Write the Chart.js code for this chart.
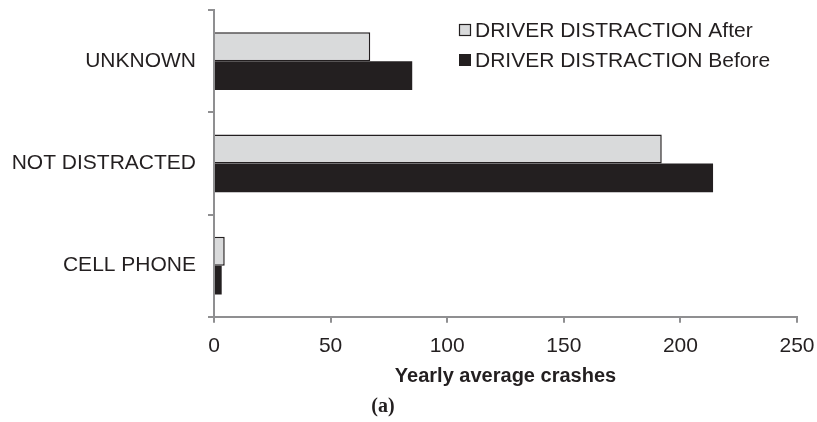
<!DOCTYPE html>
<html>
<head>
<meta charset="utf-8">
<script src="https://cdn.jsdelivr.net/npm/chart.js@4.4.1/dist/chart.umd.min.js"></script>
<style>
  html, body { margin: 0; padding: 0; background: #fff; }
  #wrap { position: relative; width: 817px; height: 422px; }
  #caption {
    position: absolute; left: 368px; top: 394px; width: 30px; text-align: center;
    font: bold 20px 'Liberation Serif', 'Times New Roman', serif; color: #231f20;
  }
</style>
</head>
<body>
<div id="wrap">
  <canvas id="crashchart" width="817" height="422"></canvas>
  <div id="caption">(a)</div>
</div>
<script>
// categories top to bottom
const categories = ['UNKNOWN', 'NOT DISTRACTED', 'CELL PHONE'];
const seriesNames = ['DRIVER DISTRACTION After', 'DRIVER DISTRACTION Before'];
const afterValues = [67, 192, 4.6];
const beforeValues = [85, 214, 3.3];
const xTicks = [0, 50, 100, 150, 200, 250];

const ink = '#231f20';
const axisGray = '#8f8f91';

// legend drawn inside the plot, top right
const boxLegend = {
  id: 'boxLegend',
  afterDraw(chart) {
    const ctx = chart.ctx;
    const x = 459, rows = [30, 60];
    ctx.save();
    ctx.font = "21px 'Liberation Sans', Arial, sans-serif";
    ctx.textBaseline = 'middle';
    chart.data.datasets.forEach((ds, i) => {
      const y = rows[i];
      ctx.fillStyle = ds.backgroundColor;
      ctx.fillRect(x, y - 6, 12, 12);
      if (ds.borderWidth) {
        ctx.strokeStyle = ds.borderColor;
        ctx.lineWidth = 1.2;
        ctx.strokeRect(x + 0.5, y - 5.5, 11, 11);
      }
      ctx.fillStyle = ink;
      ctx.fillText(ds.label, x + 16, y + 1);
    });
    ctx.restore();
  }
};

Chart.defaults.font.family = "'Liberation Sans', Arial, sans-serif";
Chart.defaults.color = ink;

const ctx = document.getElementById('crashchart').getContext('2d');
new Chart(ctx, {
  type: 'bar',
  data: {
    labels: categories,
    datasets: [{
      label: seriesNames[0],
      data: afterValues,
      backgroundColor: '#d9dadb',
      borderColor: ink,
      borderWidth: 1.5,
      borderSkipped: 'left'
    }, {
      label: seriesNames[1],
      data: beforeValues,
      backgroundColor: ink,
      borderWidth: 0
    }]
  },
  options: {
    indexAxis: 'y',
    responsive: false,
    animation: false,
    barPercentage: 1,
    categoryPercentage: 0.565,
    layout: { padding: { top: 10, right: 20, bottom: 36, left: 0 } },
    plugins: {
      legend: { display: false },
      tooltip: { enabled: false }
    },
    scales: {
      x: {
        min: 0,
        max: 250,
        afterBuildTicks: scale => { scale.ticks = xTicks.map(v => ({ value: v })); },
        afterFit: scale => {
          scale.paddingLeft = 0;
          scale.paddingRight = 0;
        },
        grid: { drawOnChartArea: false, drawTicks: true, tickLength: 6, color: axisGray, lineWidth: 2 },
        border: { display: true, color: axisGray, width: 2 },
        ticks: { font: { size: 21 }, padding: 11, maxRotation: 0 },
        title: {
          display: true,
          text: 'Yearly average crashes',
          font: { size: 20, weight: 'bold', lineHeight: 1 },
          padding: { top: -4, bottom: 0 }
        }
      },
      y: {
        afterFit: scale => {
          scale.width = 214;
          scale.paddingTop = 0;
          scale.paddingBottom = 0;
        },
        grid: { offset: true, drawOnChartArea: false, drawTicks: true, tickLength: 6, color: axisGray, lineWidth: 2 },
        border: { display: true, color: axisGray, width: 2 },
        ticks: { font: { size: 21 }, padding: 12 }
      }
    }
  },
  plugins: [boxLegend]
});
</script>
</body>
</html>
